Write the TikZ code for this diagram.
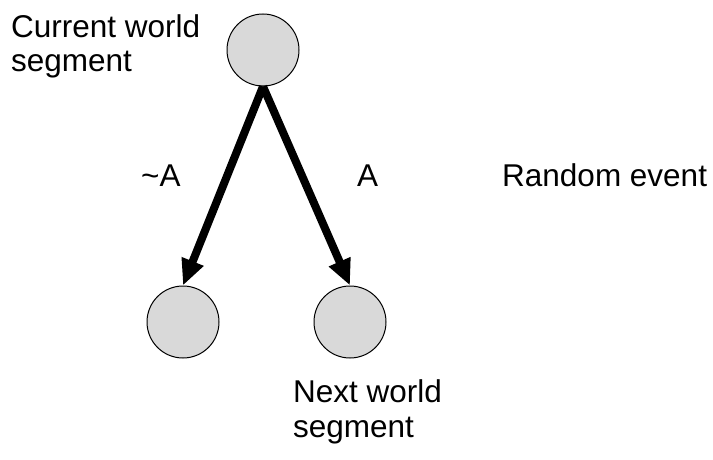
\documentclass[tikz,border=0pt]{standalone}
\usepackage{fontspec}
\setmainfont{Liberation Sans}
\usetikzlibrary{arrows.meta}
\definecolor{nodegray}{HTML}{D9D9D9}
\begin{document}
\begin{tikzpicture}[x=1pt,y=-1pt,
  world/.style={circle,draw=black,line width=1pt,fill=nodegray,minimum size=72pt,inner sep=0pt},
  lbl/.style={anchor=base west,inner sep=0pt,font=\fontsize{31.5}{35}\selectfont,align=left},
  arr/.style={line width=8pt,-{Triangle[length=26pt,width=22pt]}}]
\useasboundingbox (0,0) rectangle (713,460);
\node[world] (cur) at (263,50) {};
\node[world] (nl) at (183,322) {};
\node[world] (nr) at (350,322) {};
\draw[arr] (cur.south) -- (nl.north);
\draw[arr] (cur.south) -- (nr.north);
\node[lbl] (curlbl) at (11,72) {Current world\\segment};
\node[lbl] (nota) at (141,186) {\textasciitilde A};
\node[lbl] (a) at (357,186) {A};
\node[lbl] (ev) at (502,186) {Random event};
\node[lbl] (nextlbl) at (293,437) {Next world\\segment};
\end{tikzpicture}
\end{document}
